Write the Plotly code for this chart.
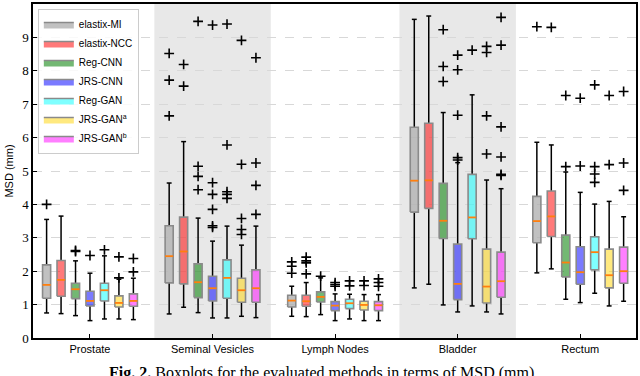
import plotly.graph_objects as go

# ──────────────────────────────────────────────────────────────
# DATA  (rows = methods, columns = organs)
# ──────────────────────────────────────────────────────────────
GROUPS = ["Prostate", "Seminal Vesicles", "Lymph Nodes", "Bladder", "Rectum"]
METHODS = ["elastix-MI", "elastix-NCC", "Reg-CNN", "JRS-CNN", "Reg-GAN",
           "JRS-GAN<sup>a</sup>", "JRS-GAN<sup>b</sup>"]

WHISK_HI = [
    [3.55, 4.64, 1.55, 9.54, 5.86],
    [3.65, 5.88, 1.66, 9.64, 5.78],
    [2.31, 3.59, 1.80, 6.75, 4.97],
    [1.94, 2.90, 1.32, 5.25, 4.36],
    [2.46, 3.35, 1.31, 7.28, 4.01],
    [1.76, 2.78, 1.30, 4.73, 4.09],
    [1.79, 3.35, 1.30, 4.47, 3.63],
]
Q3 = [
    [2.19, 3.36, 1.28, 6.31, 4.24],
    [2.32, 3.62, 1.28, 6.43, 4.40],
    [1.64, 2.22, 1.38, 4.63, 3.08],
    [1.40, 1.85, 1.09, 2.81, 2.73],
    [1.64, 2.34, 1.16, 4.90, 3.03],
    [1.26, 1.79, 1.10, 2.66, 2.66],
    [1.32, 2.04, 1.09, 2.57, 2.72],
]
MEDIAN = [
    [1.59, 2.45, 1.12, 4.71, 3.50],
    [1.74, 2.59, 1.10, 4.72, 3.64],
    [1.46, 1.67, 1.23, 3.51, 2.26],
    [1.11, 1.49, 0.97, 1.62, 1.97],
    [1.43, 1.80, 1.04, 3.61, 2.57],
    [1.05, 1.43, 0.99, 1.54, 1.88],
    [1.11, 1.49, 0.98, 1.70, 2.00],
]
Q1 = [
    [1.19, 1.65, 0.93, 3.77, 2.85],
    [1.25, 1.62, 0.95, 3.88, 3.04],
    [1.18, 1.21, 1.08, 2.98, 1.83],
    [0.96, 1.11, 0.82, 1.15, 1.61],
    [1.11, 1.19, 0.88, 2.97, 2.04],
    [0.93, 1.07, 0.84, 1.05, 1.50],
    [0.95, 1.07, 0.82, 1.22, 1.64],
]
WHISK_LO = [
    [0.75, 0.72, 0.65, 1.50, 1.95],
    [0.73, 0.92, 0.64, 1.61, 2.07],
    [0.67, 0.76, 0.70, 0.99, 1.16],
    [0.52, 0.60, 0.52, 0.78, 1.06],
    [0.57, 0.60, 0.57, 0.96, 1.34],
    [0.57, 0.65, 0.52, 0.78, 0.96],
    [0.55, 0.61, 0.52, 0.72, 1.10],
]
OUTLIERS = [
    [[4.0], [8.52, 7.72, 6.65], [2.28, 2.15, 1.94], [], [9.32]],
    [[], [8.19, 7.54], [2.42, 2.31, 2.25, 1.92], [], [9.30]],
    [[2.62, 2.59], [9.48, 5.14, 4.84, 4.44], [1.85], [9.23, 8.13, 7.68], [7.26, 5.13]],
    [[2.47], [9.37, 4.65, 4.30, 3.85, 3.36, 3.31], [1.66, 1.60, 1.55],
     [8.47, 8.03, 6.67, 5.40, 5.33], [7.18, 5.15]],
    [[2.64], [9.40, 5.78, 4.38, 4.30, 4.18], [1.71, 1.56], [8.62], [7.58, 5.13, 4.91, 4.66]],
    [[2.43, 1.80], [8.91, 5.20, 3.58, 3.25, 3.10], [1.71, 1.57],
     [8.73, 8.55, 6.65, 5.51], [7.26, 5.19]],
    [[2.38, 1.98], [8.39, 5.24, 4.57, 3.70], [1.77, 1.66, 1.55],
     [9.60, 8.77, 6.32, 5.42, 4.90, 4.87], [7.38, 5.24, 4.42]],
]

# ──────────────────────────────────────────────────────────────
# STYLE
# ──────────────────────────────────────────────────────────────
FILLS = ["rgba(178,178,178,0.8)", "rgba(255,0,0,0.52)", "rgba(0,125,0,0.55)",
         "rgba(0,0,255,0.52)", "rgba(0,255,255,0.5)", "rgba(255,212,0,0.5)",
         "rgba(255,0,255,0.5)"]
C_EDGE = "#8a8a8a"
C_MED = "#ff7f0e"
C_BAND = "#e8e8e8"
STEP = 0.118      # spacing between boxes inside a group
HALF = 0.033      # half box width
CAP = 0.02        # half cap width
SERIF = "Liberation Serif, DejaVu Serif, serif"
SANS = "Liberation Sans, Arial, sans-serif"

fig = go.Figure()

for m, name in enumerate(METHODS):
    off = (m - 3) * STEP
    bx, by = [], []
    wx, wy = [], []
    mx, my = [], []
    ox, oy = [], []
    for g in range(len(GROUPS)):
        p = g + off
        bx += [p - HALF, p + HALF, p + HALF, p - HALF, p - HALF, None]
        by += [Q1[m][g], Q1[m][g], Q3[m][g], Q3[m][g], Q1[m][g], None]
        # whiskers + caps
        wx += [p, p, None, p, p, None,
               p - CAP, p + CAP, None, p - CAP, p + CAP, None]
        wy += [Q3[m][g], WHISK_HI[m][g], None, Q1[m][g], WHISK_LO[m][g], None,
               WHISK_HI[m][g], WHISK_HI[m][g], None, WHISK_LO[m][g], WHISK_LO[m][g], None]
        mx += [p - HALF, p + HALF, None]
        my += [MEDIAN[m][g], MEDIAN[m][g], None]
        for v in OUTLIERS[m][g]:
            ox.append(p)
            oy.append(v)

    fig.add_trace(go.Scatter(
        x=wx, y=wy, mode="lines", line={"color": "black", "width": 1.5},
        showlegend=False, hoverinfo="skip"))
    fig.add_trace(go.Scatter(
        x=bx, y=by, mode="lines", fill="toself", fillcolor=FILLS[m],
        line={"color": C_EDGE, "width": 1.6}, name=name))
    fig.add_trace(go.Scatter(
        x=mx, y=my, mode="lines", line={"color": C_MED, "width": 1.8},
        showlegend=False, hoverinfo="skip"))
    fig.add_trace(go.Scatter(
        x=ox, y=oy, mode="markers", showlegend=False,
        marker={"symbol": "cross-thin", "size": 7,
                "line": {"color": "black", "width": 1.6}}))

# shaded bands behind alternate groups
for g in (1, 3):
    fig.add_shape(type="rect", xref="x", yref="paper", x0=g - 0.475, x1=g + 0.475,
                  y0=0, y1=1, fillcolor=C_BAND, line={"width": 0}, layer="below")

fig.add_annotation(
    text="<b>Fig. 2.</b> Boxplots for the evaluated methods in terms of MSD (mm).",
    xref="paper", yref="paper", x=0.122, y=-0.072, xanchor="left", yanchor="top",
    showarrow=False, font={"family": SERIF, "size": 16, "color": "black"})

fig.update_layout(
    width=640, height=376,
    margin=dict(l=33, r=2, t=4, b=38),
    paper_bgcolor="white",
    plot_bgcolor="white",
    xaxis={
        "range": [-0.465, 4.455], "tickvals": list(range(len(GROUPS))),
        "ticktext": GROUPS, "ticks": "inside", "ticklen": 4, "tickcolor": "black",
        "showgrid": False, "zeroline": False, "showline": True, "mirror": True,
        "linecolor": "black", "linewidth": 1.5,
        "tickfont": {"family": SANS, "size": 11, "color": "black"},
    },
    yaxis={
        "range": [0, 10], "dtick": 1, "ticks": "inside", "ticklen": 4,
        "tickcolor": "black", "showgrid": True, "gridcolor": "#d8d8d8",
        "griddash": "dash", "gridwidth": 1, "zeroline": False,
        "showline": True, "mirror": True, "linecolor": "black", "linewidth": 1.5,
        "tickfont": {"family": SERIF, "size": 13, "color": "black"},
        "title": {"text": "MSD (mm)", "standoff": 6,
                  "font": {"family": SANS, "size": 11, "color": "black"}},
    },
    legend={
        "x": 0.008, "y": 0.985, "xanchor": "left", "yanchor": "top",
        "bgcolor": "rgba(255,255,255,0.85)", "bordercolor": "#cccccc",
        "borderwidth": 1, "font": {"family": SANS, "size": 10, "color": "black"},
        "tracegroupgap": 0, "itemwidth": 30,
    },
)

fig.write_html("out.html", config={"displayModeBar": False},
               post_script="document.body.style.margin='0';")
